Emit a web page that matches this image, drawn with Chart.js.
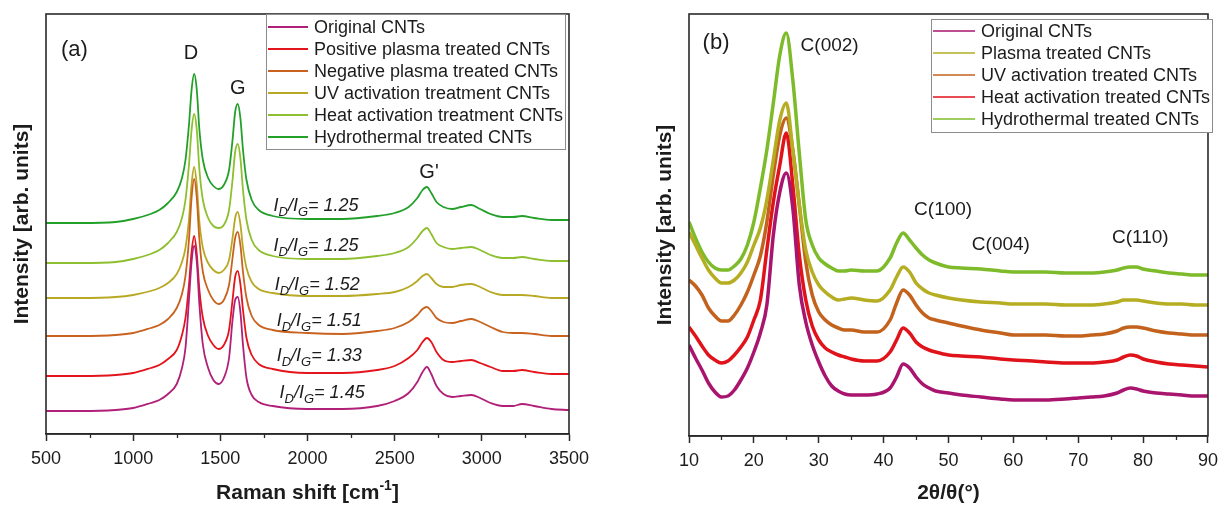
<!DOCTYPE html>
<html lang="en">
<head>
<meta charset="UTF-8">
<title>Raman and XRD spectra of treated CNTs</title>
<script src="https://cdn.jsdelivr.net/npm/chart.js"></script>
<style>
    body { margin: 0; background: #fff; }
    .janela { position: relative; width: 1225px; height: 505px; }
    .painel { position: absolute; top: 0; height: 505px; }
    #painelA { left: 0; width: 612px; }
    #painelB { left: 612px; width: 613px; }
</style>
</head>
<body>
<div class="janela">
    <div class="painel" id="painelA"><canvas id="ramanChart"></canvas></div>
    <div class="painel" id="painelB"><canvas id="xrdChart"></canvas></div>
</div>

<script>
// ---- (a) Raman spectra, stacked, arbitrary units ----
const ramanShift = [500, 700, 900, 1000, 1100, 1150, 1200, 1250, 1280, 1300, 1320, 1335, 1350, 1365, 1380, 1400, 1430, 1460, 1490, 1520, 1550, 1570, 1585, 1600, 1615, 1630, 1650, 1680, 1720, 1800, 2000, 2200, 2400, 2500, 2580, 2630, 2660, 2685, 2710, 2740, 2780, 2830, 2880, 2940, 2990, 3050, 3120, 3180, 3230, 3300, 3400, 3500];

const ramanOriginal = [23, 23, 24, 26, 31, 34, 40, 50, 66, 86, 134, 172, 188, 172, 129, 89, 66, 54, 50, 56, 76, 114, 134, 137, 122, 89, 56, 39, 32, 28, 25, 25, 28, 33, 41, 52, 62, 67, 60, 48, 40, 37, 38, 39, 36, 31, 28, 28, 30, 28, 25, 24];
const ramanPositive = [58, 58, 59, 61, 66, 69, 75, 84, 99, 116, 149, 182, 198, 180, 144, 116, 98, 89, 85, 89, 104, 134, 157, 163, 150, 124, 96, 79, 70, 65, 61, 61, 64, 68, 76, 84, 92, 96, 92, 82, 74, 72, 73, 74, 71, 67, 63, 63, 64, 62, 60, 60];
const ramanNegative = [98, 98, 99, 101, 106, 109, 115, 126, 140, 158, 194, 236, 255, 236, 194, 162, 144, 134, 130, 134, 149, 176, 196, 202, 189, 162, 136, 118, 109, 104, 101, 100, 103, 106, 112, 119, 125, 127, 123, 116, 112, 111, 113, 115, 112, 107, 102, 101, 101, 100, 98, 98];
const ramanUV = [136, 136, 137, 139, 143, 146, 151, 160, 172, 186, 214, 250, 267, 249, 212, 186, 171, 164, 161, 164, 174, 196, 216, 222, 210, 186, 166, 152, 145, 141, 138, 138, 140, 142, 147, 153, 158, 160, 156, 150, 147, 147, 149, 150, 147, 142, 139, 139, 139, 138, 136, 136];
const ramanHeat = [171, 171, 172, 175, 180, 184, 191, 202, 216, 234, 269, 304, 320, 304, 264, 234, 216, 208, 206, 209, 224, 254, 282, 290, 276, 244, 214, 194, 184, 178, 175, 175, 178, 181, 187, 196, 203, 206, 200, 191, 187, 185, 186, 187, 184, 179, 176, 176, 177, 175, 173, 173];
const ramanHydro = [211, 211, 212, 215, 220, 224, 231, 242, 256, 274, 309, 344, 360, 344, 304, 274, 256, 248, 245, 249, 264, 294, 322, 330, 316, 284, 254, 234, 224, 218, 215, 215, 218, 221, 227, 236, 244, 247, 241, 232, 227, 225, 227, 229, 225, 220, 217, 217, 218, 216, 214, 214];

const ramanLabels = ['Original CNTs', 'Positive plasma treated CNTs', 'Negative plasma treated CNTs', 'UV activation treatment CNTs', 'Heat activation treatment CNTs', 'Hydrothermal treated CNTs'];
const ramanColors = ['#b01f78', '#e3141b', '#c8621e', '#b8a925', '#8dbf2e', '#23a02a'];

// I_D/I_G ratios, top curve first, with their anchor (shift, intensity)
const idigRatios = [1.25, 1.25, 1.52, 1.51, 1.33, 1.45];
const idigShift = [1805, 1805, 1812, 1823, 1823, 1840];
const idigLevel = [228, 188, 149, 113, 78, 41];

const ramanTicks = [500, 1000, 1500, 2000, 2500, 3000, 3500];

// ---- (b) XRD patterns, stacked, arbitrary units ----
const twoTheta = [10, 11, 12, 13, 14, 15, 16, 17, 18, 19, 20, 21, 22, 23, 24, 25, 26, 27, 28, 29, 30, 31, 32, 33, 34, 35, 37, 39, 41, 42, 43, 44, 45, 46, 47, 48, 50, 52, 55, 58, 60, 63, 65, 68, 70, 72, 74, 76, 77, 78, 79, 80, 82, 84, 86, 88, 90];

const xrdOriginal = [91, 78, 66, 53, 44, 39, 40, 46, 56, 68, 84, 103, 131, 201, 244, 263, 228, 151, 114, 91, 74, 60, 50, 45, 42, 41, 41, 42, 48, 59, 72, 68, 59, 52, 48, 45, 43, 41, 39, 37, 36, 36, 36, 37, 38, 39, 40, 43, 46, 48, 47, 45, 43, 42, 41, 40, 40];
const xrdPlasma = [204, 191, 178, 166, 158, 153, 153, 156, 163, 174, 191, 208, 236, 276, 316, 333, 286, 231, 186, 164, 151, 144, 139, 136, 137, 138, 136, 135, 146, 159, 169, 164, 153, 147, 143, 141, 138, 136, 134, 133, 132, 132, 132, 131, 131, 131, 132, 134, 136, 136, 136, 135, 133, 132, 132, 131, 131];
const xrdUV = [156, 150, 141, 128, 120, 115, 115, 121, 131, 144, 161, 180, 214, 261, 301, 318, 286, 231, 174, 141, 124, 116, 111, 108, 106, 106, 104, 104, 116, 133, 146, 141, 131, 123, 118, 116, 113, 110, 106, 103, 101, 101, 101, 100, 100, 101, 102, 105, 108, 109, 109, 108, 105, 103, 102, 101, 101];
const xrdHeat = [109, 100, 90, 81, 76, 73, 75, 81, 89, 99, 116, 136, 186, 234, 271, 303, 251, 181, 136, 110, 96, 88, 84, 81, 79, 77, 75, 75, 84, 96, 108, 103, 94, 89, 86, 84, 81, 80, 79, 77, 76, 75, 74, 73, 73, 73, 74, 76, 79, 81, 80, 77, 74, 72, 71, 70, 69];
const xrdHydro = [214, 198, 184, 174, 168, 166, 166, 170, 177, 191, 214, 248, 286, 333, 381, 403, 356, 283, 216, 191, 178, 172, 168, 165, 165, 166, 165, 165, 178, 193, 203, 196, 188, 181, 176, 173, 169, 168, 167, 165, 164, 164, 164, 163, 163, 163, 164, 166, 168, 169, 169, 167, 165, 163, 162, 161, 161];

const xrdLabels = ['Original CNTs', 'Plasma treated CNTs', 'UV activation treated CNTs', 'Heat activation treated CNTs', 'Hydrothermal treated CNTs'];
const xrdColors = ['#a8146e', '#b5ad22', '#c2621c', '#e0121a', '#7dbb2a'];

const xrdTicks = [10, 20, 30, 40, 50, 60, 70, 80, 90];

const FONT = '"Liberation Sans", Arial, Helvetica, sans-serif';
const INK = '#1c1c1c';

function toPoints(xs, ys) {
    return xs.map((x, i) => ({ x: x, y: ys[i] }));
}

// I_D/I_G = n.nn with subscripts
function drawRatio(ctx, x, y, ratio) {
    const big = 'italic 18px ' + FONT;
    const small = 'italic 13px ' + FONT;
    const parts = [['I', big, 0], ['D', small, 6], ['/I', big, 0], ['G', small, 6], ['= ' + ratio.toFixed(2), big, 0]];
    ctx.textAlign = 'left';
    ctx.textBaseline = 'middle';
    for (const [t, f, dy] of parts) {
        ctx.font = f;
        ctx.fillText(t, x, y + dy);
        x += ctx.measureText(t).width;
    }
}

// frame, minor ticks, legend box, annotations and axis titles
const decorPlugin = {
    id: 'decor',
    afterDraw(chart, args, opts) {
        const ctx = chart.ctx;
        const a = chart.chartArea;
        const xs = chart.scales.x;
        const ys = chart.scales.y;
        ctx.save();

        ctx.strokeStyle = '#2a2a2a';
        ctx.lineWidth = 1.6;
        ctx.strokeRect(a.left, a.top, a.right - a.left, a.bottom - a.top);

        ctx.lineWidth = 1.3;
        for (let v = xs.min + opts.minorStep; v < xs.max; v += 2 * opts.minorStep) {
            const px = Math.round(xs.getPixelForValue(v)) + 0.5;
            ctx.beginPath();
            ctx.moveTo(px, a.bottom);
            ctx.lineTo(px, a.bottom + 4);
            ctx.stroke();
        }

        // legend
        const lg = opts.legend;
        ctx.fillStyle = '#fff';
        ctx.fillRect(lg.x, lg.y, lg.w, lg.h);
        ctx.strokeStyle = '#8c8c8c';
        ctx.lineWidth = 1;
        ctx.strokeRect(lg.x + 0.5, lg.y + 0.5, lg.w, lg.h);
        ctx.font = '18px ' + FONT;
        ctx.textAlign = 'left';
        ctx.textBaseline = 'middle';
        chart.data.datasets.forEach((ds, i) => {
            const y = lg.y + lg.first + i * lg.step;
            ctx.strokeStyle = ds.borderColor;
            ctx.lineWidth = lg.lineWidth;
            ctx.beginPath();
            ctx.moveTo(lg.x + 2, y);
            ctx.lineTo(lg.x + 2 + lg.lineLen, y);
            ctx.stroke();
            ctx.fillStyle = INK;
            ctx.fillText(ds.label, lg.x + lg.lineLen + 8, y + 1);
        });

        // annotations placed in data units
        ctx.fillStyle = INK;
        for (const t of opts.texts) {
            ctx.font = t.size + 'px ' + FONT;
            ctx.textAlign = t.align || 'left';
            ctx.textBaseline = 'middle';
            ctx.fillText(t.text, xs.getPixelForValue(t.x), ys.getPixelForValue(t.y));
        }
        if (opts.ratios) {
            opts.ratios.values.forEach((r, i) => {
                drawRatio(ctx, xs.getPixelForValue(opts.ratios.x[i]), ys.getPixelForValue(opts.ratios.y[i]), r);
            });
        }

        // axis titles
        ctx.font = 'bold 21px ' + FONT;
        ctx.textAlign = 'center';
        ctx.textBaseline = 'middle';
        const cx = (a.left + a.right) / 2;
        if (opts.xSup) {
            const main = opts.xTitle, sup = opts.xSup, tail = ']';
            const wMain = ctx.measureText(main).width;
            ctx.font = 'bold 14px ' + FONT;
            const wSup = ctx.measureText(sup).width;
            ctx.font = 'bold 21px ' + FONT;
            const wTail = ctx.measureText(tail).width;
            let x = cx - (wMain + wSup + wTail) / 2;
            ctx.textAlign = 'left';
            ctx.fillText(main, x, opts.xTitleY);
            x += wMain;
            ctx.font = 'bold 14px ' + FONT;
            ctx.fillText(sup, x, opts.xTitleY - 7);
            x += wSup;
            ctx.font = 'bold 21px ' + FONT;
            ctx.fillText(tail, x, opts.xTitleY);
        } else {
            ctx.fillText(opts.xTitle, cx, opts.xTitleY);
        }
        ctx.translate(opts.yTitleX, (a.top + a.bottom) / 2);
        ctx.rotate(-Math.PI / 2);
        ctx.textAlign = 'center';
        ctx.font = 'bold 21px ' + FONT;
        ctx.fillText('Intensity [arb. units]', 0, 0);
        ctx.restore();
    }
};

function makeChart(canvasId, xVals, series, labels, colors, cfg) {
    const datasets = series.map((ys, i) => ({
        label: labels[i],
        data: toPoints(xVals, ys),
        borderColor: colors[i],
        borderWidth: cfg.lineWidth,
        pointRadius: 0,
        fill: false,
        cubicInterpolationMode: 'monotone'
    }));

    return new Chart(document.getElementById(canvasId), {
        type: 'line',
        data: { datasets: datasets },
        plugins: [decorPlugin],
        options: {
            responsive: true,
            maintainAspectRatio: false,
            animation: false,
            layout: { padding: cfg.padding },
            plugins: {
                legend: { display: false },
                tooltip: { enabled: false },
                decor: cfg.decor
            },
            scales: {
                x: {
                    type: 'linear',
                    min: cfg.xTicks[0],
                    max: cfg.xTicks[cfg.xTicks.length - 1],
                    afterBuildTicks: scale => { scale.ticks = cfg.xTicks.map(v => ({ value: v })); },
                    afterFit: scale => { scale.height = cfg.xHeight; },
                    grid: { drawOnChartArea: false, drawTicks: true, tickLength: 7, tickWidth: 1.5, tickColor: '#2a2a2a' },
                    border: { display: true, color: '#2a2a2a', width: 1.6 },
                    ticks: {
                        color: INK,
                        font: { family: FONT, size: 18 },
                        padding: 7,
                        maxRotation: 0,
                        callback: v => String(v)
                    }
                },
                y: {
                    display: false,
                    min: 0,
                    max: cfg.yMax
                }
            }
        }
    });
}

makeChart('ramanChart', ramanShift,
    [ramanOriginal, ramanPositive, ramanNegative, ramanUV, ramanHeat, ramanHydro],
    ramanLabels, ramanColors, {
        lineWidth: 1.8,
        padding: { left: 46, right: 43, top: 14, bottom: 0 },
        xHeight: 71,
        xTicks: ramanTicks,
        yMax: 420,
        decor: {
            minorStep: 250,
            legend: { x: 266, y: 14, w: 299, h: 135, first: 13, step: 22, lineLen: 40, lineWidth: 2 },
            texts: [
                { text: '(a)', x: 586, y: 384, size: 22 },
                { text: 'D', x: 1332, y: 381, size: 20, align: 'center' },
                { text: 'G', x: 1600, y: 346, size: 20, align: 'center' },
                { text: "G'", x: 2697, y: 262, size: 20, align: 'center' }
            ],
            ratios: { values: idigRatios, x: idigShift, y: idigLevel },
            xTitle: 'Raman shift [cm',
            xSup: '-1',
            xTitleY: 493,
            yTitleX: 22
        }
    });

makeChart('xrdChart', twoTheta,
    [xrdOriginal, xrdPlasma, xrdUV, xrdHeat, xrdHydro],
    xrdLabels, xrdColors, {
        lineWidth: 3.5,
        padding: { left: 77, right: 11, top: 14, bottom: 0 },
        xHeight: 69,
        xTicks: xrdTicks,
        yMax: 422,
        decor: {
            minorStep: 5,
            legend: { x: 319, y: 19, w: 281, h: 113, first: 12, step: 22, lineLen: 42, lineWidth: 1.5 },
            texts: [
                { text: '(b)', x: 12.1, y: 393, size: 22 },
                { text: 'C(002)', x: 27.2, y: 390, size: 19 },
                { text: 'C(100)', x: 44.7, y: 226, size: 19 },
                { text: 'C(004)', x: 53.6, y: 191, size: 19 },
                { text: 'C(110)', x: 75.2, y: 198, size: 19 }
            ],
            xTitle: '2θ/θ(°)',
            xTitleY: 493,
            yTitleX: 53
        }
    });
</script>
</body>
</html>
